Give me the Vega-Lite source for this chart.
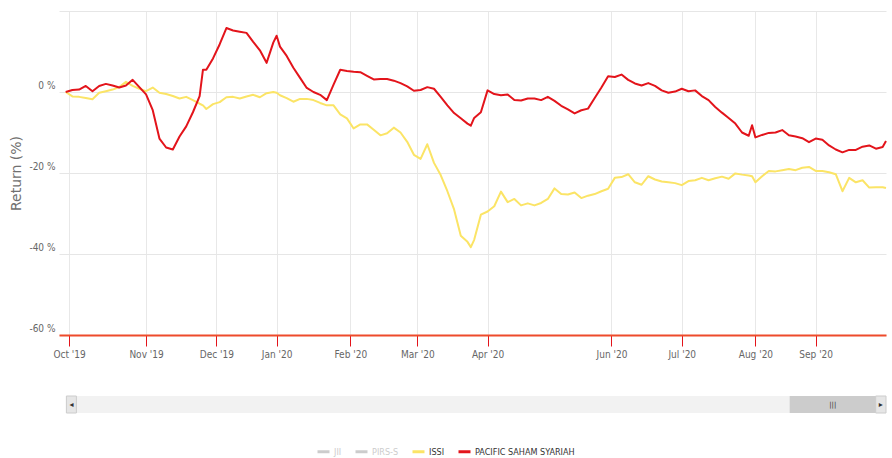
{
  "$schema": "https://vega.github.io/schema/vega-lite/v6.json",
  "padding": {"left": 9, "top": 11, "right": 2, "bottom": 2},
  "bounds": "flush",
  "spacing": 61,
  "config": {
    "view": {"stroke": null},
    "font": "'DejaVu Sans Condensed', 'Liberation Sans', sans-serif",
    "axis": {"labelFont": "'DejaVu Sans Condensed', 'Liberation Sans', sans-serif", "labelColor": "#666666", "labelFontSize": 10, "gridColor": "#e6e6e6", "gridWidth": 1}
  },
  "vconcat": [
    {
      "width": 827,
      "height": 324,
      "data": {"values": [
        {"date": "2019-09-30", "ISSI": 0.0, "PACIFIC SAHAM SYARIAH": 0.0},
        {"date": "2019-10-02", "ISSI": -1.1, "PACIFIC SAHAM SYARIAH": 0.5},
        {"date": "2019-10-04", "ISSI": -1.2, "PACIFIC SAHAM SYARIAH": 0.6},
        {"date": "2019-10-08", "ISSI": -1.5, "PACIFIC SAHAM SYARIAH": 1.5},
        {"date": "2019-10-10", "ISSI": -1.8, "PACIFIC SAHAM SYARIAH": 0.2},
        {"date": "2019-10-14", "ISSI": -0.2, "PACIFIC SAHAM SYARIAH": 1.5},
        {"date": "2019-10-16", "ISSI": 0.2, "PACIFIC SAHAM SYARIAH": 2.0},
        {"date": "2019-10-18", "ISSI": 0.6, "PACIFIC SAHAM SYARIAH": 1.6},
        {"date": "2019-10-22", "ISSI": 1.2, "PACIFIC SAHAM SYARIAH": 1.1},
        {"date": "2019-10-24", "ISSI": 2.5, "PACIFIC SAHAM SYARIAH": 1.6},
        {"date": "2019-10-28", "ISSI": 1.5, "PACIFIC SAHAM SYARIAH": 3.0},
        {"date": "2019-10-30", "ISSI": 0.8, "PACIFIC SAHAM SYARIAH": 1.2},
        {"date": "2019-11-01", "ISSI": 0.2, "PACIFIC SAHAM SYARIAH": -0.6},
        {"date": "2019-11-05", "ISSI": 1.1, "PACIFIC SAHAM SYARIAH": -4.5},
        {"date": "2019-11-07", "ISSI": -0.2, "PACIFIC SAHAM SYARIAH": -11.5},
        {"date": "2019-11-11", "ISSI": -0.5, "PACIFIC SAHAM SYARIAH": -13.7},
        {"date": "2019-11-13", "ISSI": -1.0, "PACIFIC SAHAM SYARIAH": -14.2},
        {"date": "2019-11-15", "ISSI": -1.6, "PACIFIC SAHAM SYARIAH": -11.0},
        {"date": "2019-11-19", "ISSI": -1.2, "PACIFIC SAHAM SYARIAH": -8.5},
        {"date": "2019-11-21", "ISSI": -2.0, "PACIFIC SAHAM SYARIAH": -5.0},
        {"date": "2019-11-25", "ISSI": -2.9, "PACIFIC SAHAM SYARIAH": -1.0},
        {"date": "2019-11-26", "ISSI": -3.3, "PACIFIC SAHAM SYARIAH": 5.5},
        {"date": "2019-11-27", "ISSI": -4.2, "PACIFIC SAHAM SYARIAH": 5.5},
        {"date": "2019-11-29", "ISSI": -3.0, "PACIFIC SAHAM SYARIAH": 8.3},
        {"date": "2019-12-03", "ISSI": -2.5, "PACIFIC SAHAM SYARIAH": 11.8},
        {"date": "2019-12-05", "ISSI": -1.3, "PACIFIC SAHAM SYARIAH": 15.8},
        {"date": "2019-12-09", "ISSI": -1.2, "PACIFIC SAHAM SYARIAH": 15.2},
        {"date": "2019-12-11", "ISSI": -1.6, "PACIFIC SAHAM SYARIAH": 14.9},
        {"date": "2019-12-13", "ISSI": -1.1, "PACIFIC SAHAM SYARIAH": 14.6},
        {"date": "2019-12-17", "ISSI": -0.7, "PACIFIC SAHAM SYARIAH": 12.4},
        {"date": "2019-12-19", "ISSI": -1.3, "PACIFIC SAHAM SYARIAH": 10.3},
        {"date": "2019-12-23", "ISSI": -0.3, "PACIFIC SAHAM SYARIAH": 7.2},
        {"date": "2019-12-30", "ISSI": 0.0, "PACIFIC SAHAM SYARIAH": 12.2},
        {"date": "2020-01-02", "ISSI": -0.2, "PACIFIC SAHAM SYARIAH": 13.9},
        {"date": "2020-01-03", "ISSI": -0.8, "PACIFIC SAHAM SYARIAH": 11.2},
        {"date": "2020-01-07", "ISSI": -1.5, "PACIFIC SAHAM SYARIAH": 8.9},
        {"date": "2020-01-09", "ISSI": -2.4, "PACIFIC SAHAM SYARIAH": 6.0},
        {"date": "2020-01-13", "ISSI": -1.7, "PACIFIC SAHAM SYARIAH": 3.5},
        {"date": "2020-01-15", "ISSI": -1.7, "PACIFIC SAHAM SYARIAH": 1.0},
        {"date": "2020-01-17", "ISSI": -2.0, "PACIFIC SAHAM SYARIAH": 0.0},
        {"date": "2020-01-21", "ISSI": -2.7, "PACIFIC SAHAM SYARIAH": -0.7},
        {"date": "2020-01-23", "ISSI": -3.3, "PACIFIC SAHAM SYARIAH": -2.0},
        {"date": "2020-01-27", "ISSI": -3.3, "PACIFIC SAHAM SYARIAH": 1.8},
        {"date": "2020-01-29", "ISSI": -5.5, "PACIFIC SAHAM SYARIAH": 5.5},
        {"date": "2020-01-31", "ISSI": -6.5, "PACIFIC SAHAM SYARIAH": 5.2},
        {"date": "2020-02-04", "ISSI": -9.0, "PACIFIC SAHAM SYARIAH": 5.0},
        {"date": "2020-02-06", "ISSI": -8.0, "PACIFIC SAHAM SYARIAH": 4.9},
        {"date": "2020-02-10", "ISSI": -8.0, "PACIFIC SAHAM SYARIAH": 4.0},
        {"date": "2020-02-12", "ISSI": -9.3, "PACIFIC SAHAM SYARIAH": 3.1},
        {"date": "2020-02-14", "ISSI": -10.7, "PACIFIC SAHAM SYARIAH": 3.2},
        {"date": "2020-02-18", "ISSI": -10.2, "PACIFIC SAHAM SYARIAH": 3.2},
        {"date": "2020-02-20", "ISSI": -8.8, "PACIFIC SAHAM SYARIAH": 2.8},
        {"date": "2020-02-24", "ISSI": -10.0, "PACIFIC SAHAM SYARIAH": 2.2},
        {"date": "2020-02-26", "ISSI": -12.3, "PACIFIC SAHAM SYARIAH": 1.4},
        {"date": "2020-02-28", "ISSI": -15.5, "PACIFIC SAHAM SYARIAH": 0.3},
        {"date": "2020-03-03", "ISSI": -16.5, "PACIFIC SAHAM SYARIAH": 0.5},
        {"date": "2020-03-05", "ISSI": -12.9, "PACIFIC SAHAM SYARIAH": 1.2},
        {"date": "2020-03-09", "ISSI": -17.5, "PACIFIC SAHAM SYARIAH": 0.8},
        {"date": "2020-03-11", "ISSI": -20.5, "PACIFIC SAHAM SYARIAH": -1.2},
        {"date": "2020-03-13", "ISSI": -24.5, "PACIFIC SAHAM SYARIAH": -3.3},
        {"date": "2020-03-17", "ISSI": -29.0, "PACIFIC SAHAM SYARIAH": -5.2},
        {"date": "2020-03-19", "ISSI": -35.5, "PACIFIC SAHAM SYARIAH": -6.5},
        {"date": "2020-03-23", "ISSI": -37.0, "PACIFIC SAHAM SYARIAH": -7.8},
        {"date": "2020-03-24", "ISSI": -38.3, "PACIFIC SAHAM SYARIAH": -8.3},
        {"date": "2020-03-26", "ISSI": -36.5, "PACIFIC SAHAM SYARIAH": -6.4},
        {"date": "2020-03-30", "ISSI": -30.3, "PACIFIC SAHAM SYARIAH": -5.0},
        {"date": "2020-04-01", "ISSI": -29.5, "PACIFIC SAHAM SYARIAH": 0.4},
        {"date": "2020-04-03", "ISSI": -28.2, "PACIFIC SAHAM SYARIAH": -0.5},
        {"date": "2020-04-07", "ISSI": -24.6, "PACIFIC SAHAM SYARIAH": -0.8},
        {"date": "2020-04-09", "ISSI": -27.2, "PACIFIC SAHAM SYARIAH": -0.6},
        {"date": "2020-04-14", "ISSI": -26.4, "PACIFIC SAHAM SYARIAH": -2.0},
        {"date": "2020-04-16", "ISSI": -28.0, "PACIFIC SAHAM SYARIAH": -2.1},
        {"date": "2020-04-20", "ISSI": -27.5, "PACIFIC SAHAM SYARIAH": -1.6},
        {"date": "2020-04-22", "ISSI": -28.0, "PACIFIC SAHAM SYARIAH": -1.6},
        {"date": "2020-04-24", "ISSI": -27.4, "PACIFIC SAHAM SYARIAH": -2.0},
        {"date": "2020-04-28", "ISSI": -26.4, "PACIFIC SAHAM SYARIAH": -1.2},
        {"date": "2020-04-30", "ISSI": -23.8, "PACIFIC SAHAM SYARIAH": -2.2},
        {"date": "2020-05-05", "ISSI": -25.2, "PACIFIC SAHAM SYARIAH": -3.4},
        {"date": "2020-05-08", "ISSI": -25.3, "PACIFIC SAHAM SYARIAH": -4.3},
        {"date": "2020-05-12", "ISSI": -24.8, "PACIFIC SAHAM SYARIAH": -5.3},
        {"date": "2020-05-14", "ISSI": -26.2, "PACIFIC SAHAM SYARIAH": -4.5},
        {"date": "2020-05-18", "ISSI": -25.6, "PACIFIC SAHAM SYARIAH": -4.1},
        {"date": "2020-05-20", "ISSI": -25.2, "PACIFIC SAHAM SYARIAH": -1.5},
        {"date": "2020-05-27", "ISSI": -24.5, "PACIFIC SAHAM SYARIAH": 1.1},
        {"date": "2020-05-29", "ISSI": -23.9, "PACIFIC SAHAM SYARIAH": 3.9},
        {"date": "2020-06-03", "ISSI": -21.2, "PACIFIC SAHAM SYARIAH": 3.7},
        {"date": "2020-06-05", "ISSI": -21.0, "PACIFIC SAHAM SYARIAH": 4.3},
        {"date": "2020-06-09", "ISSI": -20.3, "PACIFIC SAHAM SYARIAH": 3.0},
        {"date": "2020-06-11", "ISSI": -22.3, "PACIFIC SAHAM SYARIAH": 2.1},
        {"date": "2020-06-15", "ISSI": -22.9, "PACIFIC SAHAM SYARIAH": 1.6},
        {"date": "2020-06-17", "ISSI": -20.8, "PACIFIC SAHAM SYARIAH": 2.2},
        {"date": "2020-06-19", "ISSI": -21.6, "PACIFIC SAHAM SYARIAH": 1.5},
        {"date": "2020-06-23", "ISSI": -22.1, "PACIFIC SAHAM SYARIAH": 0.4},
        {"date": "2020-06-25", "ISSI": -22.3, "PACIFIC SAHAM SYARIAH": -0.2},
        {"date": "2020-06-29", "ISSI": -22.5, "PACIFIC SAHAM SYARIAH": 0.1},
        {"date": "2020-07-01", "ISSI": -23.0, "PACIFIC SAHAM SYARIAH": 0.8},
        {"date": "2020-07-03", "ISSI": -22.0, "PACIFIC SAHAM SYARIAH": 0.2},
        {"date": "2020-07-07", "ISSI": -21.8, "PACIFIC SAHAM SYARIAH": 0.4},
        {"date": "2020-07-09", "ISSI": -21.2, "PACIFIC SAHAM SYARIAH": -1.0},
        {"date": "2020-07-13", "ISSI": -21.8, "PACIFIC SAHAM SYARIAH": -2.0},
        {"date": "2020-07-15", "ISSI": -21.3, "PACIFIC SAHAM SYARIAH": -3.7},
        {"date": "2020-07-17", "ISSI": -20.9, "PACIFIC SAHAM SYARIAH": -5.1},
        {"date": "2020-07-21", "ISSI": -21.4, "PACIFIC SAHAM SYARIAH": -6.4},
        {"date": "2020-07-23", "ISSI": -20.1, "PACIFIC SAHAM SYARIAH": -7.8},
        {"date": "2020-07-27", "ISSI": -20.4, "PACIFIC SAHAM SYARIAH": -10.0},
        {"date": "2020-07-29", "ISSI": -20.6, "PACIFIC SAHAM SYARIAH": -10.8},
        {"date": "2020-07-30", "ISSI": -20.8, "PACIFIC SAHAM SYARIAH": -8.2},
        {"date": "2020-08-03", "ISSI": -22.3, "PACIFIC SAHAM SYARIAH": -11.2},
        {"date": "2020-08-05", "ISSI": -20.8, "PACIFIC SAHAM SYARIAH": -10.6},
        {"date": "2020-08-07", "ISSI": -19.5, "PACIFIC SAHAM SYARIAH": -10.1},
        {"date": "2020-08-11", "ISSI": -19.6, "PACIFIC SAHAM SYARIAH": -10.0},
        {"date": "2020-08-13", "ISSI": -19.3, "PACIFIC SAHAM SYARIAH": -9.4},
        {"date": "2020-08-18", "ISSI": -19.0, "PACIFIC SAHAM SYARIAH": -10.7},
        {"date": "2020-08-24", "ISSI": -19.3, "PACIFIC SAHAM SYARIAH": -11.0},
        {"date": "2020-08-26", "ISSI": -18.7, "PACIFIC SAHAM SYARIAH": -11.4},
        {"date": "2020-08-28", "ISSI": -18.5, "PACIFIC SAHAM SYARIAH": -12.4},
        {"date": "2020-09-01", "ISSI": -19.5, "PACIFIC SAHAM SYARIAH": -11.5},
        {"date": "2020-09-03", "ISSI": -19.5, "PACIFIC SAHAM SYARIAH": -11.8},
        {"date": "2020-09-07", "ISSI": -19.8, "PACIFIC SAHAM SYARIAH": -13.2},
        {"date": "2020-09-09", "ISSI": -20.3, "PACIFIC SAHAM SYARIAH": -14.2},
        {"date": "2020-09-11", "ISSI": -24.5, "PACIFIC SAHAM SYARIAH": -14.9},
        {"date": "2020-09-15", "ISSI": -21.2, "PACIFIC SAHAM SYARIAH": -14.3},
        {"date": "2020-09-17", "ISSI": -22.3, "PACIFIC SAHAM SYARIAH": -14.3},
        {"date": "2020-09-21", "ISSI": -21.8, "PACIFIC SAHAM SYARIAH": -13.5},
        {"date": "2020-09-23", "ISSI": -23.6, "PACIFIC SAHAM SYARIAH": -13.2},
        {"date": "2020-09-25", "ISSI": -23.5, "PACIFIC SAHAM SYARIAH": -14.0},
        {"date": "2020-09-29", "ISSI": -23.5, "PACIFIC SAHAM SYARIAH": -13.6},
        {"date": "2020-09-30", "ISSI": -23.7, "PACIFIC SAHAM SYARIAH": -12.1}
      ]},
      "transform": [{"fold": ["ISSI", "PACIFIC SAHAM SYARIAH"], "as": ["series", "ret"]}],
      "mark": {"type": "line", "strokeWidth": 2, "strokeJoin": "round"},
      "encoding": {
        "x": {
          "field": "date",
          "type": "ordinal",
          "scale": {
            "type": "point",
            "padding": 1.1,
            "align": 1,
            "domain": [
              "2019-09-30",
              "2019-10-01","2019-10-02","2019-10-03","2019-10-04","2019-10-07","2019-10-08","2019-10-09","2019-10-10","2019-10-11","2019-10-14","2019-10-15","2019-10-16","2019-10-17","2019-10-18","2019-10-21","2019-10-22","2019-10-23","2019-10-24","2019-10-25","2019-10-28","2019-10-29","2019-10-30","2019-10-31",
              "2019-11-01","2019-11-04","2019-11-05","2019-11-06","2019-11-07","2019-11-08","2019-11-11","2019-11-12","2019-11-13","2019-11-14","2019-11-15","2019-11-18","2019-11-19","2019-11-20","2019-11-21","2019-11-22","2019-11-25","2019-11-26","2019-11-27","2019-11-28","2019-11-29",
              "2019-12-02","2019-12-03","2019-12-04","2019-12-05","2019-12-06","2019-12-09","2019-12-10","2019-12-11","2019-12-12","2019-12-13","2019-12-16","2019-12-17","2019-12-18","2019-12-19","2019-12-20","2019-12-23","2019-12-27","2019-12-30",
              "2020-01-02","2020-01-03","2020-01-06","2020-01-07","2020-01-08","2020-01-09","2020-01-10","2020-01-13","2020-01-14","2020-01-15","2020-01-16","2020-01-17","2020-01-20","2020-01-21","2020-01-22","2020-01-23","2020-01-24","2020-01-27","2020-01-28","2020-01-29","2020-01-30","2020-01-31",
              "2020-02-03","2020-02-04","2020-02-05","2020-02-06","2020-02-07","2020-02-10","2020-02-11","2020-02-12","2020-02-13","2020-02-14","2020-02-17","2020-02-18","2020-02-19","2020-02-20","2020-02-21","2020-02-24","2020-02-25","2020-02-26","2020-02-27","2020-02-28",
              "2020-03-02","2020-03-03","2020-03-04","2020-03-05","2020-03-06","2020-03-09","2020-03-10","2020-03-11","2020-03-12","2020-03-13","2020-03-16","2020-03-17","2020-03-18","2020-03-19","2020-03-20","2020-03-23","2020-03-24","2020-03-26","2020-03-27","2020-03-30","2020-03-31",
              "2020-04-01","2020-04-02","2020-04-03","2020-04-06","2020-04-07","2020-04-08","2020-04-09","2020-04-13","2020-04-14","2020-04-15","2020-04-16","2020-04-17","2020-04-20","2020-04-21","2020-04-22","2020-04-23","2020-04-24","2020-04-27","2020-04-28","2020-04-29","2020-04-30",
              "2020-05-04","2020-05-05","2020-05-06","2020-05-08","2020-05-11","2020-05-12","2020-05-13","2020-05-14","2020-05-15","2020-05-18","2020-05-19","2020-05-20","2020-05-22","2020-05-27","2020-05-28","2020-05-29",
              "2020-06-02","2020-06-03","2020-06-04","2020-06-05","2020-06-08","2020-06-09","2020-06-10","2020-06-11","2020-06-12","2020-06-15","2020-06-16","2020-06-17","2020-06-18","2020-06-19","2020-06-22","2020-06-23","2020-06-24","2020-06-25","2020-06-26","2020-06-29","2020-06-30",
              "2020-07-01","2020-07-02","2020-07-03","2020-07-06","2020-07-07","2020-07-08","2020-07-09","2020-07-10","2020-07-13","2020-07-14","2020-07-15","2020-07-16","2020-07-17","2020-07-20","2020-07-21","2020-07-22","2020-07-23","2020-07-24","2020-07-27","2020-07-28","2020-07-29","2020-07-30",
              "2020-08-03","2020-08-04","2020-08-05","2020-08-06","2020-08-07","2020-08-10","2020-08-11","2020-08-12","2020-08-13","2020-08-14","2020-08-18","2020-08-19","2020-08-24","2020-08-25","2020-08-26","2020-08-27","2020-08-28","2020-08-31",
              "2020-09-01","2020-09-02","2020-09-03","2020-09-04","2020-09-07","2020-09-08","2020-09-09","2020-09-10","2020-09-11","2020-09-14","2020-09-15","2020-09-16","2020-09-17","2020-09-18","2020-09-21","2020-09-22","2020-09-23","2020-09-24","2020-09-25","2020-09-28","2020-09-29","2020-09-30"
            ]
          },
          "axis": {
            "title": null,
            "values": ["2019-10-01","2019-11-01","2019-12-02","2020-01-02","2020-02-03","2020-03-02","2020-04-01","2020-06-02","2020-07-01","2020-08-03","2020-09-01"],
            "labelExpr": "utcFormat(toDate(datum.value), \"%b '%y\")",
            "labelAngle": 0,
            "labelPadding": 3,
            "tickColor": "#e3141b",
            "tickSize": 11,
            "tickWidth": 1,
            "domainColor": "#ee4b2b",
            "domainWidth": 2,
            "grid": true,
            "gridColor": "#e8e8e8"
          }
        },
        "y": {
          "field": "ret",
          "type": "quantitative",
          "scale": {"domain": [-60, 20], "nice": false, "zero": false},
          "axis": {
            "values": [-60, -40, -20, 0, 20],
            "labelExpr": "datum.value == 20 ? '' : datum.value + ' %'",
            "ticks": false,
            "domain": false,
            "labelPadding": 4,
            "labelBaseline": "alphabetic",
            "labelOffset": -3.5,
            "title": "Return (%)",
            "titleFont": "DejaVu Sans",
            "titleFontSize": 14,
            "titleFontWeight": "normal",
            "titleColor": "#707070",
            "titlePadding": 5
          }
        },
        "color": {
          "field": "series",
          "type": "nominal",
          "scale": {
            "domain": ["JII", "PIRS-S", "ISSI", "PACIFIC SAHAM SYARIAH"],
            "range": ["#cccccc", "#cccccc", "#fbe466", "#e3141b"]
          },
          "legend": {
            "title": null,
            "orient": "none",
            "legendX": 257,
            "legendY": 433,
            "direction": "horizontal",
            "symbolType": "stroke",
            "symbolSize": 144,
            "symbolStrokeWidth": 3,
            "labelFont": "'DejaVu Sans Condensed', 'Liberation Sans', sans-serif",
            "labelFontSize": 9,
            "labelOffset": 3,
            "columnPadding": 7,
            "padding": 0,
            "labelColor": {"expr": "datum.value == 'JII' || datum.value == 'PIRS-S' ? '#cccccc' : '#333333'"}
          }
        }
      }
    },
    {
      "width": 827,
      "height": 17,
      "data": {"values": [{}]},
      "layer": [
        {
          "mark": {"type": "rect", "color": "#f2f2f2"},
          "encoding": {
            "x": {"datum": 0, "type": "quantitative", "scale": {"domain": [-0.009, 1], "nice": false, "zero": false}, "axis": null},
            "x2": {"datum": 1}
          }
        },
        {
          "mark": {"type": "rect", "color": "#e6e6e6", "stroke": "#cccccc", "strokeWidth": 1},
          "encoding": {
            "x": {"datum": 0, "type": "quantitative", "axis": null},
            "x2": {"datum": 0.0122}
          }
        },
        {
          "mark": {"type": "rect", "color": "#cccccc"},
          "encoding": {
            "x": {"datum": 0.8825, "type": "quantitative", "axis": null},
            "x2": {"datum": 0.9874}
          }
        },
        {
          "mark": {"type": "rect", "color": "#e6e6e6", "stroke": "#cccccc", "strokeWidth": 1},
          "encoding": {
            "x": {"datum": 0.9874, "type": "quantitative", "axis": null},
            "x2": {"datum": 1}
          }
        },
        {
          "mark": {"type": "text", "text": "◂", "font": "DejaVu Sans", "fontSize": 8, "color": "#333333"},
          "encoding": {"x": {"datum": 0.0061, "type": "quantitative", "axis": null}}
        },
        {
          "mark": {"type": "text", "text": "▸", "font": "DejaVu Sans", "fontSize": 8, "color": "#333333"},
          "encoding": {"x": {"datum": 0.9937, "type": "quantitative", "axis": null}}
        },
        {
          "mark": {"type": "text", "text": "|||", "font": "DejaVu Sans", "fontSize": 7, "color": "#333333"},
          "encoding": {"x": {"datum": 0.935, "type": "quantitative", "axis": null}}
        }
      ]
    }
  ]
}
